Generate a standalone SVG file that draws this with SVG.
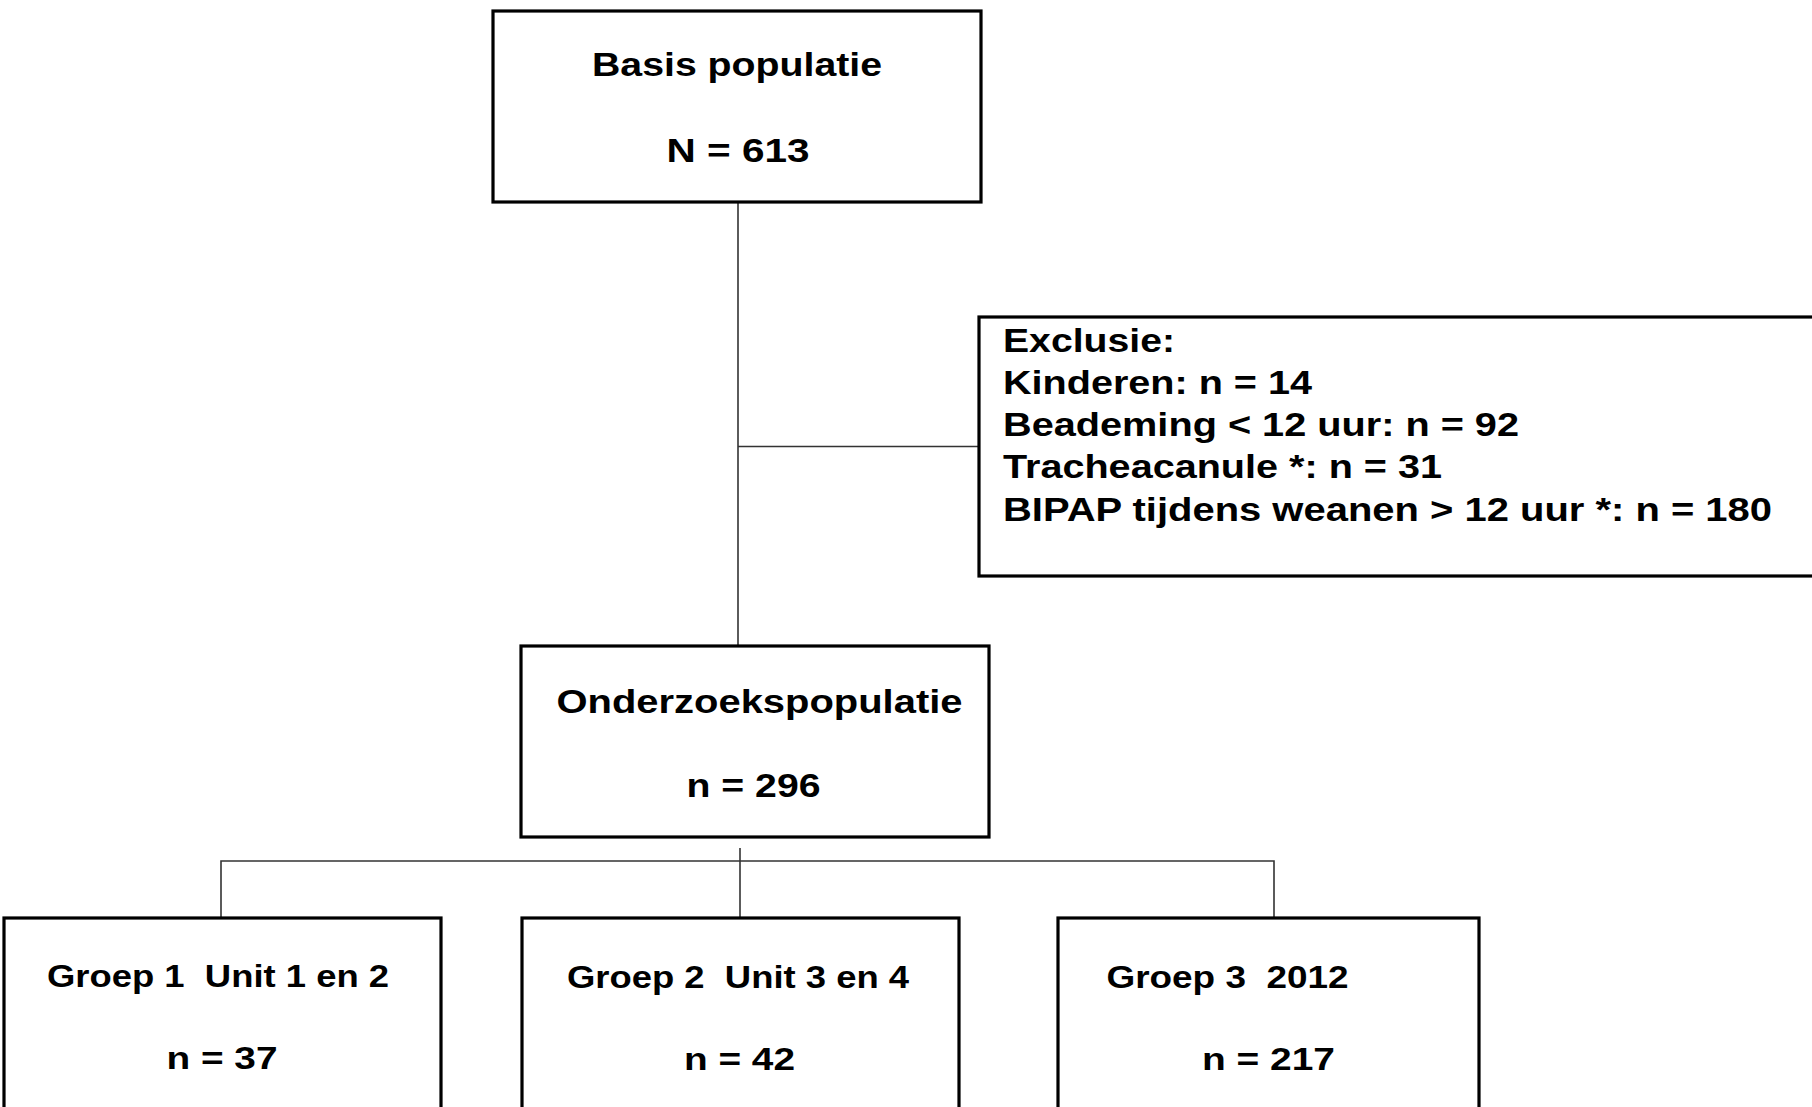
<svg xmlns="http://www.w3.org/2000/svg" width="1812" height="1107" viewBox="0 0 1812 1107">
<style>
.box{fill:#fff;stroke:#000;stroke-width:3.2}
.t{font-family:"Liberation Sans",Arial,sans-serif;font-weight:bold;font-size:33px;fill:#000;white-space:pre}
.c{text-anchor:middle}
.g{font-size:31px}
.ln{fill:none;stroke:#333;stroke-width:1.6}
</style>
<rect width="1812" height="1107" fill="#fff"/>
<g id="connectors">
<line class="ln" x1="738" y1="202" x2="738" y2="646"/>
<line class="ln" x1="738" y1="446.5" x2="979" y2="446.5"/>
<line class="ln" x1="740" y1="848" x2="740" y2="918"/>
<polyline class="ln" points="221,918 221,861 1274,861 1274,918"/>
</g>
<g id="basis">
<rect class="box" x="493" y="11" width="488" height="191"/>
<text class="t c" x="737" y="76" textLength="290" lengthAdjust="spacingAndGlyphs">Basis populatie</text>
<text class="t c" x="738" y="162" textLength="143" lengthAdjust="spacingAndGlyphs">N = 613</text>
</g>
<g id="exclusie">
<rect class="box" x="979" y="317" width="860" height="259"/>
<text class="t" x="1003" y="351.5" textLength="172" lengthAdjust="spacingAndGlyphs">Exclusie:</text>
<text class="t" x="1003" y="393.5" textLength="309" lengthAdjust="spacingAndGlyphs">Kinderen: n = 14</text>
<text class="t" x="1003" y="435.5" textLength="516" lengthAdjust="spacingAndGlyphs">Beademing &lt; 12 uur: n = 92</text>
<text class="t" x="1003" y="478" textLength="439" lengthAdjust="spacingAndGlyphs">Tracheacanule *: n = 31</text>
<text class="t" x="1003" y="520.5" textLength="769" lengthAdjust="spacingAndGlyphs">BIPAP tijdens weanen &gt; 12 uur *: n = 180</text>
</g>
<g id="onderzoek">
<rect class="box" x="521" y="646" width="468" height="191"/>
<text class="t c" x="759.5" y="713" textLength="406" lengthAdjust="spacingAndGlyphs">Onderzoekspopulatie</text>
<text class="t c" x="753.5" y="796.5" textLength="134" lengthAdjust="spacingAndGlyphs">n = 296</text>
</g>
<g id="groep1">
<rect class="box" x="4" y="918" width="437" height="210"/>
<text class="t g c" x="218" y="986.5" textLength="342" lengthAdjust="spacingAndGlyphs" xml:space="preserve">Groep 1  Unit 1 en 2</text>
<text class="t g c" x="222" y="1069" textLength="111" lengthAdjust="spacingAndGlyphs">n = 37</text>
</g>
<g id="groep2">
<rect class="box" x="522" y="918" width="437" height="210"/>
<text class="t g c" x="738" y="988" textLength="342" lengthAdjust="spacingAndGlyphs" xml:space="preserve">Groep 2  Unit 3 en 4</text>
<text class="t g c" x="739.5" y="1070" textLength="111" lengthAdjust="spacingAndGlyphs">n = 42</text>
</g>
<g id="groep3">
<rect class="box" x="1058" y="918" width="421" height="210"/>
<text class="t g c" x="1227.5" y="988" textLength="242" lengthAdjust="spacingAndGlyphs" xml:space="preserve">Groep 3  2012</text>
<text class="t g c" x="1268.5" y="1070" textLength="133" lengthAdjust="spacingAndGlyphs">n = 217</text>
</g>
</svg>
